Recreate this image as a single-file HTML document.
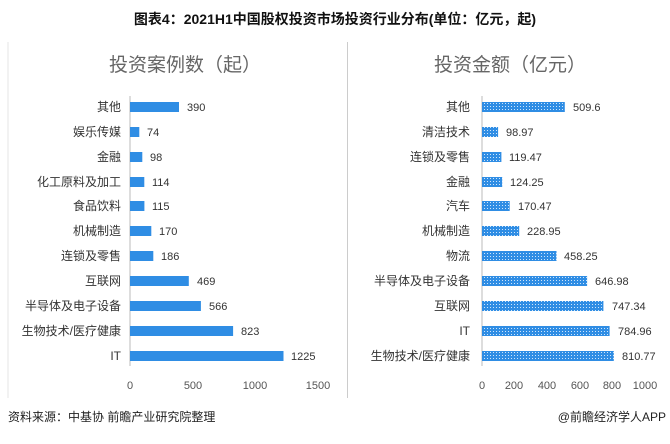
<!DOCTYPE html><html><head><meta charset="utf-8"><style>body{margin:0;background:#fff}svg text{font-family:"Liberation Sans","Noto Sans CJK SC",sans-serif}</style></head><body>
<svg width="670" height="439" xmlns="http://www.w3.org/2000/svg">
<defs><pattern id="d" width="3" height="3" patternUnits="userSpaceOnUse"><rect width="3" height="3" fill="#2f8de4"/><rect x="1" y="1" width="1" height="1" fill="#cfe6fb"/></pattern></defs>
<text x="335" y="24" text-anchor="middle" font-size="14" font-weight="bold" fill="#111">图表4：2021H1中国股权投资市场投资行业分布(单位：亿元，起)</text>
<line x1="347.5" y1="42" x2="347.5" y2="398" stroke="#ccc"/>
<line x1="8" y1="42" x2="8" y2="398" stroke="#e4e4e4"/>
<text x="185" y="71" text-anchor="middle" font-size="19" fill="#666">投资案例数（起）</text>
<text x="510" y="71" text-anchor="middle" font-size="19" fill="#666">投资金额（亿元）</text>
<line x1="130" y1="96" x2="130" y2="366" stroke="#bbb"/>
<line x1="482" y1="96" x2="482" y2="366" stroke="#bbb"/>
<g font-size="11" fill="#333">
<g text-anchor="end" font-size="12">
<text x="121" y="111">其他</text><text x="121" y="136">娱乐传媒</text><text x="121" y="161">金融</text><text x="121" y="186">化工原料及加工</text><text x="121" y="210">食品饮料</text><text x="121" y="235">机械制造</text><text x="121" y="260">连锁及零售</text><text x="121" y="285">互联网</text><text x="121" y="310">半导体及电子设备</text><text x="121" y="335">生物技术/医疗健康</text><text x="121" y="360">IT</text>
<text x="470" y="111">其他</text><text x="470" y="136">清洁技术</text><text x="470" y="161">连锁及零售</text><text x="470" y="186">金融</text><text x="470" y="210">汽车</text><text x="470" y="235">机械制造</text><text x="470" y="260">物流</text><text x="470" y="285">半导体及电子设备</text><text x="470" y="310">互联网</text><text x="470" y="335">IT</text><text x="470" y="360">生物技术/医疗健康</text>
</g>
<g fill="#2f8de4">
<rect x="130" y="102" width="49" height="10"/><rect x="130" y="127" width="9.3" height="10"/><rect x="130" y="152" width="12.3" height="10"/><rect x="130" y="177" width="14.3" height="10"/><rect x="130" y="201" width="14.4" height="10"/><rect x="130" y="226" width="21.3" height="10"/><rect x="130" y="251" width="23.3" height="10"/><rect x="130" y="276" width="58.8" height="10"/><rect x="130" y="301" width="70.9" height="10"/><rect x="130" y="326" width="103.1" height="10"/><rect x="130" y="351" width="153.5" height="10"/>
</g>
<g fill="url(#d)">
<rect x="482" y="102" width="82.8" height="10"/><rect x="482" y="127" width="16.1" height="10"/><rect x="482" y="152" width="19.4" height="10"/><rect x="482" y="177" width="20.2" height="10"/><rect x="482" y="201" width="27.7" height="10"/><rect x="482" y="226" width="37.2" height="10"/><rect x="482" y="251" width="74.5" height="10"/><rect x="482" y="276" width="105.1" height="10"/><rect x="482" y="301" width="121.4" height="10"/><rect x="482" y="326" width="127.6" height="10"/><rect x="482" y="351" width="131.8" height="10"/>
</g>
<text x="187" y="111">390</text><text x="147" y="136">74</text><text x="150" y="161">98</text><text x="152" y="186">114</text><text x="152" y="210">115</text><text x="159" y="235">170</text><text x="161" y="260">186</text><text x="197" y="285">469</text><text x="209" y="310">566</text><text x="241" y="335">823</text><text x="291" y="360">1225</text>
<text x="573" y="111">509.6</text><text x="506" y="136">98.97</text><text x="509" y="161">119.47</text><text x="510" y="186">124.25</text><text x="518" y="210">170.47</text><text x="527" y="235">228.95</text><text x="564" y="260">458.25</text><text x="595" y="285">646.98</text><text x="612" y="310">747.34</text><text x="618" y="335">784.96</text><text x="622" y="360">810.77</text>
<g text-anchor="middle" fill="#555">
<text x="130" y="389">0</text><text x="193" y="389">500</text><text x="255" y="389">1000</text><text x="318" y="389">1500</text>
<text x="482" y="389">0</text><text x="514" y="389">200</text><text x="547" y="389">400</text><text x="580" y="389">600</text><text x="612" y="389">800</text><text x="645" y="389">1000</text>
</g>
</g>
<text x="8" y="421" font-size="12" fill="#222">资料来源：中基协 前瞻产业研究院整理</text>
<text x="666" y="421" font-size="12" fill="#222" text-anchor="end">@前瞻经济学人APP</text>
</svg></body></html>
